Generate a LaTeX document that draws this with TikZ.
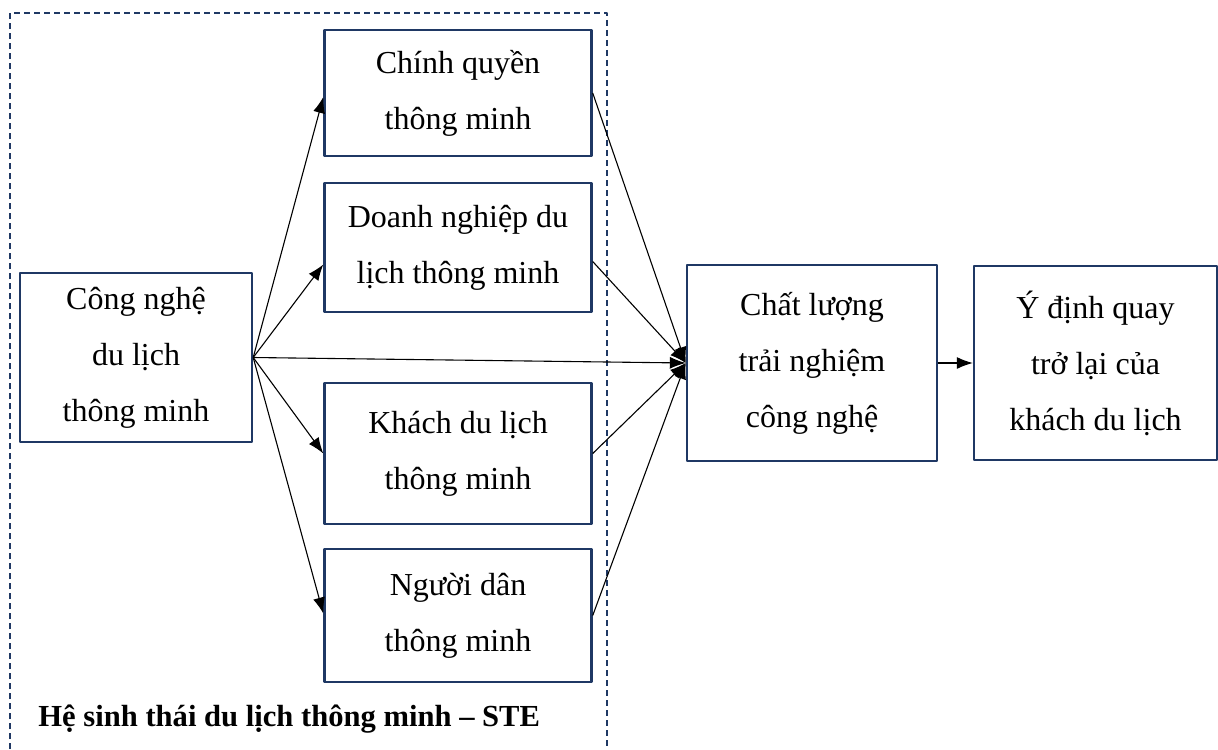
\documentclass[tikz,border=0pt]{standalone}
\usepackage{fontspec}
\setmainfont{Liberation Serif}
\usetikzlibrary{arrows.meta}
\definecolor{navy}{RGB}{31,56,100}
\begin{document}
\begin{tikzpicture}[x=0.5pt, y=-0.5pt, >={Latex[length=8pt,width=6pt]}, line join=round,
	font=\fontsize{16}{28}\selectfont,
	hop/.style={draw=navy, line width=1.2pt, align=center, inner sep=0pt},
	link/.style={->, line width=0.55pt}]
			\useasboundingbox (0,0) rectangle (1218,749);
			% Khung STE
			\draw[navy, line width=1.3pt, dash pattern=on 3pt off 2pt] (10,749)--(10,13)--(607,13)--(607,749);
			\node[anchor=base west, inner sep=0pt, font=\fontsize{15.3}{20}\selectfont\bfseries] (ste) at (38,726) {Hệ sinh thái du lịch thông minh – STE};
			% Các hộp
			\node[hop, minimum width=116pt, minimum height=84.5pt] (tech) at (136,357.5) {Công nghệ\\du lịch\\thông minh};
			\node[hop, minimum width=133.5pt, minimum height=63pt] (gov) at (458,93) {Chính quyền\\thông minh};
			\node[hop, minimum width=133.5pt, minimum height=64.5pt] (biz) at (458,247.5) {Doanh nghiệp du\\lịch thông minh};
			\node[hop, minimum width=133.5pt, minimum height=70.5pt] (guest) at (458,453.5) {Khách du lịch\\thông minh};
			\node[hop, minimum width=133.5pt, minimum height=66.5pt] (citizen) at (458,615.5) {Người dân\\thông minh};
			\node[hop, minimum width=125pt, minimum height=98pt] (qual) at (812,363) {Chất lượng\\trải nghiệm\\công nghệ};
			\node[hop, minimum width=121.5pt, minimum height=97pt] (intent) at (1095.5,363) {Ý định quay\\trở lại của\\khách du lịch};
			% Mũi tên
			\draw[link] (tech.east)--([yshift=-2pt]gov.west);
			\draw[link] (tech.east)--([yshift=-8.5pt]biz.west);
			\draw[link] (tech.east)--(guest.west);
			\draw[link] (tech.east)--([yshift=1pt]citizen.west);
			\draw[link] (tech.east)--(qual.west);
			\draw[link] (gov.east)--(qual.west);
			\draw[link] ([yshift=-7pt]biz.east)--(qual.west);
			\draw[link] (guest.east)--(qual.west);
			\draw[link] (citizen.east)--(qual.west);
			\draw[link] (qual.east)--(intent.west);
		\end{tikzpicture}
\end{document}
